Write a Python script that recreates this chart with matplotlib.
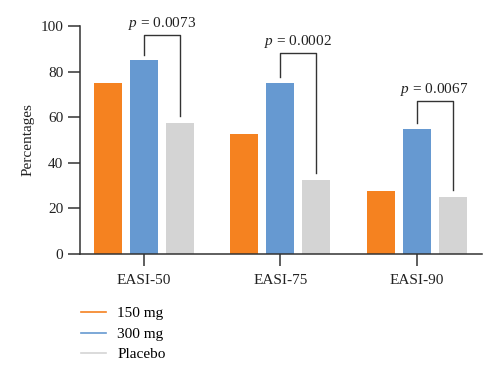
import matplotlib
matplotlib.use("Agg")
import matplotlib.pyplot as plt
from matplotlib.lines import Line2D
import numpy as np

categories = ["EASI-50", "EASI-75", "EASI-90"]
series_names = ["150 mg", "300 mg", "Placebo"]
v150 = [75, 52.5, 27.5]
v300 = [85, 75, 55]
vplac = [57.5, 32.5, 25]
p_labels = ["0.0073", "0.0002", "0.0067"]
bracket_tops = [96, 88, 67]

colors = ["#F58220", "#6699D1", "#D4D4D4"]
plt.rcParams['font.family'] = ['Liberation Serif', 'DejaVu Serif']
plt.rcParams['mathtext.fontset'] = 'custom'
plt.rcParams['mathtext.it'] = 'Liberation Serif:italic'
plt.rcParams['mathtext.rm'] = 'Liberation Serif'

fig = plt.figure(figsize=(5, 3.77), dpi=100)
ax = fig.add_axes([0.16, 0.326, 0.804, 0.605])

x = np.arange(len(categories))
w = 0.205
off = 0.264
dark = "#333333"
for i, (vals, c) in enumerate(zip([v150, v300, vplac], colors)):
    ax.bar(x + (i - 1) * off, vals, width=w, color=c, zorder=2)

for i in range(len(categories)):
    xl = x[i]
    xr = x[i] + off
    top = bracket_tops[i]
    ax.plot([xl, xl, xr, xr], [v300[i] + 2.5, top, top, vplac[i] + 3],
            color=dark, lw=1.0, clip_on=False, zorder=3)
    ax.text((xl + xr) / 2, top + 1.5, r"$\it{p}$ = " + p_labels[i],
            ha="center", va="bottom", fontsize=11, color="#222222", clip_on=False)

ax.set_xlim(-0.47, 2.48)
ax.set_ylim(0, 100)
ax.set_yticks([0, 20, 40, 60, 80, 100])
ax.set_xticks(x)
ax.set_xticklabels(categories)
ax.set_ylabel("Percentages", fontsize=11, color="#222222")
for s in ["top", "right"]:
    ax.spines[s].set_visible(False)
for s in ["left", "bottom"]:
    ax.spines[s].set_color(dark)
    ax.spines[s].set_linewidth(1.1)
ax.tick_params(axis="both", direction="out", length=8.5, width=1.1, color=dark,
               labelsize=11, labelcolor="#222222")
ax.tick_params(axis="x", pad=6)

handles = [Line2D([0], [0], color=c, lw=1.2) for c in colors]
fig.legend(handles, series_names, loc="upper left", bbox_to_anchor=(0.146, 0.207),
           frameon=False, fontsize=11, handlelength=1.65, handletextpad=0.75,
           labelspacing=0.45, borderpad=0)

fig.savefig("out.png", dpi=100)
